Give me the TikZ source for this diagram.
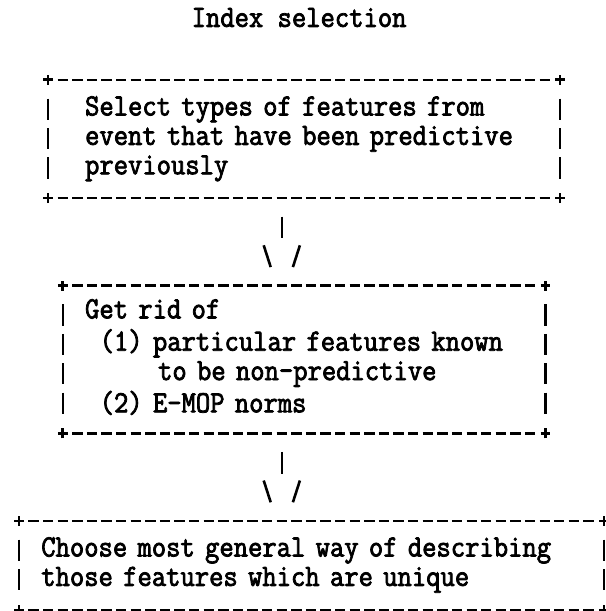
\documentclass[tikz,border=0pt]{standalone}
\usepackage{fontspec}
\newfontfamily\twfont{Latin Modern Mono}[FakeBold=2.5, FakeStretch=0.9]
\usetikzlibrary{calc}
\newlength\chw \setlength\chw{7.3pt}
\newlength\lnh \setlength\lnh{14.7pt}

\begin{document}
\begin{tikzpicture}[
  x=\chw, y=\lnh,
  font=\twfont\fontsize{15.45pt}{14.7pt}\selectfont,
  box/.style={rectangle, inner sep=0pt, anchor=north west, align=left},
  hrule/.style={line width=1.2pt, dash pattern=on 0.7\chw off 0.3\chw},
  vrule/.style={line width=1.2pt, dash pattern=on 0.72\lnh off 0.28\lnh},
  tick/.style={line width=1.3pt}
]
\useasboundingbox (-1.301,0.714) rectangle (40.137,-20.068);

% Title
\node[anchor=base west, inner sep=0pt] (title) at (11.8,-0.2) {Index selection};

% Boxes
\node[box, text width=35\chw, minimum width=35\chw, minimum height=4\lnh] (sel) at (2,-2)
  {\hspace*{2.5\chw}Select types of features from\strut\\
   \hspace*{2.5\chw}event that have been predictive\strut\\
   \hspace*{2.5\chw}previously\strut};
\node[box, text width=33\chw, minimum width=33\chw, minimum height=5\lnh] (rid) at (3,-9)
  {\hspace*{1.5\chw}Get rid of\strut\\
   \hspace*{2.5\chw}(1) particular features known\strut\\
   \hspace*{6.5\chw}to be non-predictive\strut\\
   \hspace*{2.5\chw}(2) E-MOP norms\strut};
\node[box, text width=40\chw, minimum width=40\chw, minimum height=3\lnh] (gen) at (0,-17)
  {\hspace*{1.5\chw}Choose most general way of describing\strut\\
   \hspace*{1.5\chw}those features which are unique\strut};

% Typed borders
\foreach \bx in {sel,rid,gen} {
  \draw[hrule] ($(\bx.north west)+(0.65,0)$) -- ($(\bx.north east)+(-0.65,0)$);
  \draw[hrule] ($(\bx.south west)+(0.65,0)$) -- ($(\bx.south east)+(-0.65,0)$);
  \draw[vrule] ($(\bx.north west)+(0,-0.64)$) -- ($(\bx.south west)+(0,0.64)$);
  \draw[vrule] ($(\bx.north east)+(0,-0.64)$) -- ($(\bx.south east)+(0,0.64)$);
  \foreach \cn in {north west,north east,south west,south east}
    \draw[tick] ($(\bx.\cn)+(-0.33,0)$) -- ++(0.66,0)
                ($(\bx.\cn)+(0,-0.17)$) -- ++(0,0.34);
}

% Arrows
\coordinate (stemx) at (18,0);
\foreach \src/\dst in {sel/rid,rid/gen} {
  \draw[tick] ($(\src.south -| stemx)+(0,-0.63)$) -- ++(0,-0.74);
  \draw[tick] ($(\dst.north -| stemx)+(-1.24,1.37)$) -- ++(0.48,-0.74);
  \draw[tick] ($(\dst.north -| stemx)+(1.24,1.37)$) -- ++(-0.48,-0.74);
}
\end{tikzpicture}
\end{document}
